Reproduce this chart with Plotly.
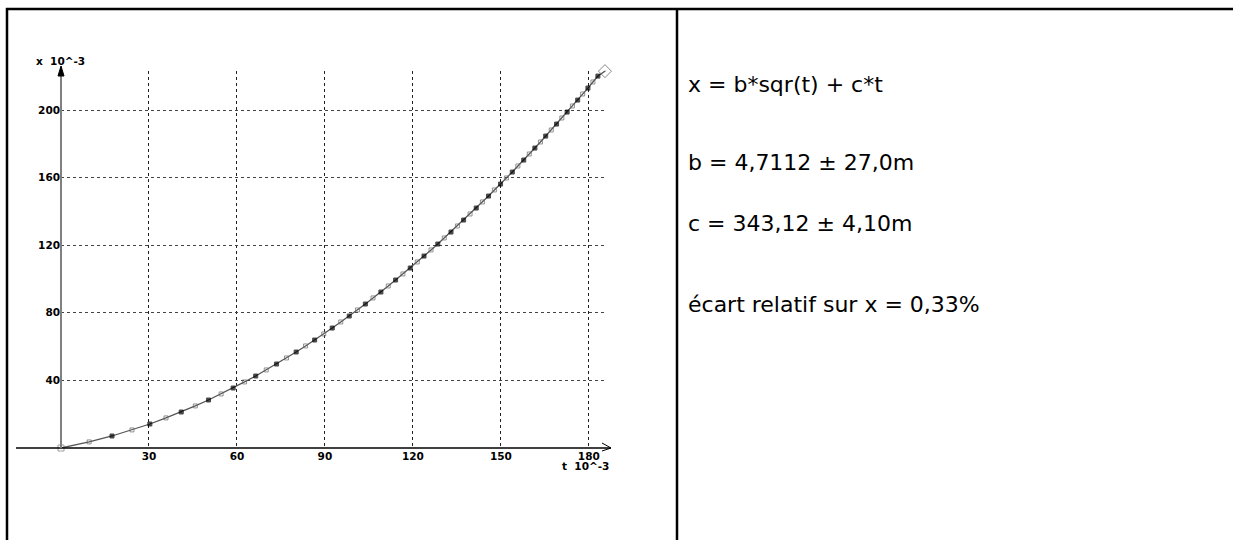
import plotly.graph_objects as go

# ---- data (t in 10^-3, x in 10^-3) ----
t_vals = [0, 9.6, 17.4, 24.2, 30.3, 35.8, 41.0, 45.8, 50.3, 54.6, 58.7, 62.6, 66.4, 70.0,
          73.5, 76.9, 80.2, 83.4, 86.5, 89.6, 92.5, 95.4, 98.3, 101.1, 103.8, 106.4, 109.1,
          111.6, 114.1, 116.6, 119.1, 121.5, 123.8, 126.2, 128.5, 130.7, 133.0, 135.2, 137.3,
          139.5, 141.6, 143.7, 145.8, 147.8, 149.9, 151.9, 153.9, 155.8, 157.8, 159.7, 161.6,
          163.5, 165.3, 167.2, 169.0, 170.8, 172.6, 174.4, 176.2, 177.9, 179.7, 181.4, 183.1,
          185.5]
x_vals = [0, 3.6, 7.1, 10.7, 14.2, 17.8, 21.3, 24.9, 28.4, 32.0, 35.5, 39.1, 42.6, 46.2,
          49.7, 53.3, 56.8, 60.4, 63.9, 67.5, 71.0, 74.6, 78.1, 81.7, 85.2, 88.8, 92.3,
          95.9, 99.4, 103.0, 106.5, 110.1, 113.6, 117.2, 120.7, 124.3, 127.8, 131.4, 134.9,
          138.5, 142.0, 145.6, 149.1, 152.7, 156.2, 159.8, 163.3, 166.9, 170.4, 174.0, 177.5,
          181.1, 184.6, 188.2, 191.7, 195.3, 198.8, 202.4, 205.9, 209.5, 213.0, 216.6, 220.1,
          223.0]
x_ticks = [30, 60, 90, 120, 150, 180]
y_ticks = [40, 80, 120, 160, 200]
x_label = "t  10^-3"
y_label = "x  10^-3"
text_lines = ["x = b*sqr(t) + c*t",
              "b = 4,7112 \u00b1 27,0m",
              "c = 343,12 \u00b1 4,10m",
              "\u00e9cart relatif sur x = 0,33%"]

W, H = 1233, 540


def PX(px):
    return px / W


def PY(py):
    return 1 - py / H


n = len(t_vals)
symbols = []
sizes = []
colors = []
for i in range(n):
    if i == 0:
        symbols.append("square-open"); sizes.append(6); colors.append("#777")
    elif i == n - 1:
        symbols.append("diamond-open-dot"); sizes.append(10); colors.append("#555")
    elif i % 2:
        symbols.append("square-open"); sizes.append(4); colors.append("#666")
    else:
        symbols.append("square"); sizes.append(4); colors.append("#000")

fig = go.Figure()
fig.add_trace(go.Scatter(
    x=t_vals, y=x_vals, mode="lines+markers",
    line=dict(color="#555", width=1.3),
    marker=dict(symbol=symbols, size=sizes, color=colors,
                line=dict(width=1, color=colors)),
    cliponaxis=False, showlegend=False, hoverinfo="skip"))

tickfont = dict(family="DejaVu Sans", size=10.5, color="#000", weight="bold")
fig.update_xaxes(domain=[PX(61), PX(607)], range=[0, 186.2],
                 tickvals=x_ticks, ticktext=[str(v) for v in x_ticks],
                 showgrid=True, gridcolor="#222", griddash="dot", gridwidth=1,
                 showline=False, zeroline=False, ticks="", tickfont=tickfont,
                 automargin=False, fixedrange=True)
fig.update_yaxes(domain=[PY(448), PY(71)], range=[0, 223.1],
                 tickvals=y_ticks, ticktext=[str(v) for v in y_ticks],
                 showgrid=True, gridcolor="#444", griddash="dot", gridwidth=1,
                 showline=False, zeroline=False, ticks="", tickfont=tickfont,
                 automargin=False, fixedrange=True)

shapes = []
# page borders (table frame)
for (x0, y0, x1, y1) in [(6, 9, 1233, 9), (7, 8, 7, 540), (677, 8, 677, 540)]:
    shapes.append(dict(type="line", xref="paper", yref="paper",
                       x0=PX(x0), y0=PY(y0), x1=PX(x1), y1=PY(y1),
                       line=dict(color="#000", width=2.5)))
# axes
shapes.append(dict(type="line", xref="paper", yref="paper",
                   x0=PX(16), y0=PY(448), x1=PX(611), y1=PY(448),
                   line=dict(color="#000", width=1.5)))
shapes.append(dict(type="line", xref="paper", yref="paper",
                   x0=PX(61), y0=PY(448), x1=PX(61), y1=PY(68),
                   line=dict(color="#808080", width=2)))
# arrow heads
shapes.append(dict(type="path", xref="paper", yref="paper",
                   path=f"M {PX(58)},{PY(76)} L {PX(61)},{PY(66)} L {PX(64)},{PY(76)} Z",
                   fillcolor="#000", line=dict(color="#000", width=1)))
shapes.append(dict(type="path", xref="paper", yref="paper",
                   path=f"M {PX(602)},{PY(443)} L {PX(611)},{PY(448)} L {PX(602)},{PY(451)}",
                   line=dict(color="#000", width=1)))

annotations = [
    dict(text=y_label, xref="paper", yref="paper", x=PX(34), y=PY(61),
         xanchor="left", yanchor="middle", showarrow=False, font=tickfont),
    dict(text=x_label, xref="paper", yref="paper", x=PX(611), y=PY(466),
         xanchor="right", yanchor="middle", showarrow=False, font=tickfont),
]
line_y = [84, 162, 224, 304]
for txt, yy in zip(text_lines, line_y):
    annotations.append(dict(text=txt, xref="paper", yref="paper", x=PX(686), y=PY(yy),
                            xanchor="left", yanchor="middle", showarrow=False,
                            font=dict(family="DejaVu Sans", size=22, color="#000")))

fig.update_layout(width=W, height=H, margin=dict(l=0, r=0, t=0, b=0),
                  paper_bgcolor="white", plot_bgcolor="white",
                  shapes=shapes, annotations=annotations, showlegend=False)

fig.write_html("out.html", config={"displayModeBar": False},
               post_script="document.body.style.margin='0';document.body.style.padding='0';")
